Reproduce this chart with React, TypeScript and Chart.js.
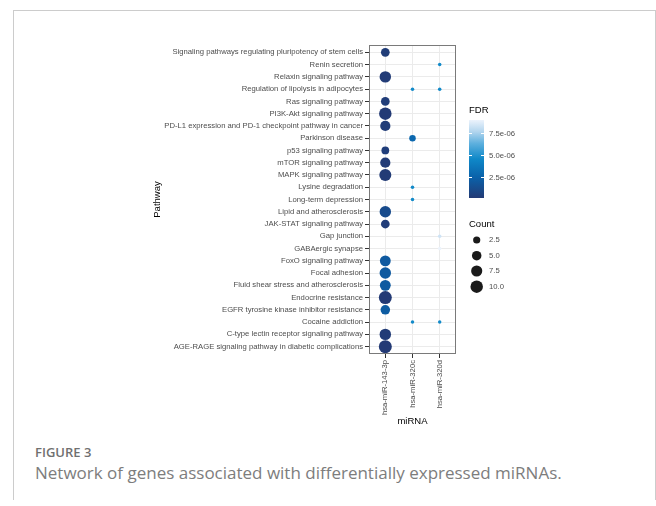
import React, { useEffect, useRef } from 'react';
import { Chart, registerables } from 'chart.js';

Chart.register(...registerables);

// ---------------- data ----------------
const pathways = [
  'Signaling pathways regulating pluripotency of stem cells',
  'Renin secretion',
  'Relaxin signaling pathway',
  'Regulation of lipolysis in adipocytes',
  'Ras signaling pathway',
  'PI3K-Akt signaling pathway',
  'PD-L1 expression and PD-1 checkpoint pathway in cancer',
  'Parkinson disease',
  'p53 signaling pathway',
  'mTOR signaling pathway',
  'MAPK signaling pathway',
  'Lysine degradation',
  'Long-term depression',
  'Lipid and atherosclerosis',
  'JAK-STAT signaling pathway',
  'Gap junction',
  'GABAergic synapse',
  'FoxO signaling pathway',
  'Focal adhesion',
  'Fluid shear stress and atherosclerosis',
  'Endocrine resistance',
  'EGFR tyrosine kinase inhibitor resistance',
  'Cocaine addiction',
  'C-type lectin receptor signaling pathway',
  'AGE-RAGE signaling pathway in diabetic complications',
];

const mirnas = ['hsa-miR-143-3p', 'hsa-miR-320c', 'hsa-miR-320d'];

const mir143Pathways = [
  'Signaling pathways regulating pluripotency of stem cells',
  'Relaxin signaling pathway',
  'Ras signaling pathway',
  'PI3K-Akt signaling pathway',
  'PD-L1 expression and PD-1 checkpoint pathway in cancer',
  'p53 signaling pathway',
  'mTOR signaling pathway',
  'MAPK signaling pathway',
  'Lipid and atherosclerosis',
  'JAK-STAT signaling pathway',
  'FoxO signaling pathway',
  'Focal adhesion',
  'Fluid shear stress and atherosclerosis',
  'Endocrine resistance',
  'EGFR tyrosine kinase inhibitor resistance',
  'C-type lectin receptor signaling pathway',
  'AGE-RAGE signaling pathway in diabetic complications',
];
const mir143Counts = [4, 8, 4, 10, 6, 3, 6, 9, 8, 4, 7, 8, 7, 11, 5, 8, 11];
const mir143Fdr = [
  2.0e-7, 1.5e-7, 2.5e-7, 5.0e-8, 2.0e-7, 3.0e-7, 1.5e-7, 1.0e-7, 1.1e-6, 2.5e-7,
  2.0e-6, 2.0e-6, 2.0e-6, 4.5e-8, 2.1e-6, 1.5e-7, 5.0e-8,
];

const mir320cPathways = [
  'Regulation of lipolysis in adipocytes',
  'Parkinson disease',
  'Lysine degradation',
  'Long-term depression',
  'Cocaine addiction',
];
const mir320cCounts = [1, 2, 1, 1, 1];
const mir320cFdr = [4.6e-6, 2.8e-6, 4.6e-6, 4.6e-6, 4.6e-6];

const mir320dPathways = [
  'Renin secretion',
  'Regulation of lipolysis in adipocytes',
  'Gap junction',
  'GABAergic synapse',
  'Cocaine addiction',
];
const mir320dCounts = [1, 1, 1, 1, 1];
const mir320dFdr = [4.6e-6, 4.6e-6, 8.3e-6, 9.0e-6, 4.6e-6];

const fdrTicks = [2.5e-6, 5.0e-6, 7.5e-6];
const fdrTickLabels = ['2.5e-06', '5.0e-06', '7.5e-06'];
const countBreaks = [2.5, 5.0, 7.5, 10.0];
const countLabels = ['2.5', '5.0', '7.5', '10.0'];

// ---------------- scales ----------------
const allFdr = [...mir143Fdr, ...mir320cFdr, ...mir320dFdr];
const fdrMin = Math.min(...allFdr);
const fdrMax = Math.max(...allFdr);
const allCounts = [...mir143Counts, ...mir320cCounts, ...mir320dCounts];
const cMin = Math.min(...allCounts);
const cMax = Math.max(...allCounts);

const colorStops: [number, string][] = [
  [0, '#233a75'],
  [0.27, '#0a62aa'],
  [0.5, '#0f88c8'],
  [0.7, '#5eb0de'],
  [0.85, '#b2d5ee'],
  [1, '#ecf3fc'],
];

function hexToRgb(h: string) {
  const n = parseInt(h.slice(1), 16);
  return [(n >> 16) & 255, (n >> 8) & 255, n & 255];
}

function fdrColor(v: number) {
  const t = Math.max(0, Math.min(1, (v - fdrMin) / (fdrMax - fdrMin)));
  for (let i = 0; i < colorStops.length - 1; i++) {
    const [t0, c0] = colorStops[i];
    const [t1, c1] = colorStops[i + 1];
    if (t <= t1) {
      const f = (t - t0) / (t1 - t0);
      const a = hexToRgb(c0);
      const b = hexToRgb(c1);
      const r = a.map((x, k) => Math.round(x + (b[k] - x) * f));
      return `rgb(${r[0]},${r[1]},${r[2]})`;
    }
  }
  return colorStops[colorStops.length - 1][1];
}

function countRadius(c: number) {
  const s = 1 + 5 * Math.sqrt(Math.max(0, (c - cMin) / (cMax - cMin)));
  return (1.9 * s + 1.6) / 2;
}

const FONT = '"Liberation Sans", Arial, Helvetica, sans-serif';

const series = [
  { paths: mir143Pathways, counts: mir143Counts, fdr: mir143Fdr },
  { paths: mir320cPathways, counts: mir320cCounts, fdr: mir320cFdr },
  { paths: mir320dPathways, counts: mir320dCounts, fdr: mir320dFdr },
];

// ---------------- plugins ----------------
const panelBorder = {
  id: 'panelBorder',
  afterDraw(chart: any) {
    const { ctx, chartArea: a } = chart;
    ctx.save();
    ctx.strokeStyle = '#7a7a7a';
    ctx.lineWidth = 1;
    ctx.strokeRect(Math.round(a.left) + 0.5, Math.round(a.top) + 0.5, Math.round(a.right - a.left) - 1, Math.round(a.bottom - a.top) - 1);
    ctx.restore();
  },
};

const ggLegend = {
  id: 'ggLegend',
  afterDraw(chart: any) {
    const ctx = chart.ctx;
    ctx.save();
    ctx.textAlign = 'left';
    ctx.textBaseline = 'alphabetic';
    ctx.fillStyle = '#000000';
    ctx.font = `9.5px ${FONT}`;
    ctx.fillText('FDR', 469, 113);

    const bx = 469, by = 120, bw = 15, bh = 78;
    const g = ctx.createLinearGradient(0, by + bh, 0, by);
    colorStops.forEach(([t, c]) => g.addColorStop(t, c));
    ctx.fillStyle = g;
    ctx.fillRect(bx, by, bw, bh);

    ctx.font = `7.7px ${FONT}`;
    ctx.textBaseline = 'middle';
    fdrTicks.forEach((v, i) => {
      const y = Math.round(by + bh - ((v - fdrMin) / (fdrMax - fdrMin)) * bh) + 0.5;
      ctx.strokeStyle = '#ffffff';
      ctx.lineWidth = 1;
      ctx.beginPath();
      ctx.moveTo(bx, y);
      ctx.lineTo(bx + 3, y);
      ctx.moveTo(bx + bw - 3, y);
      ctx.lineTo(bx + bw, y);
      ctx.stroke();
      ctx.fillStyle = '#4d4d4d';
      ctx.fillText(fdrTickLabels[i], 489, y);
    });

    ctx.textBaseline = 'alphabetic';
    ctx.fillStyle = '#000000';
    ctx.font = `9.5px ${FONT}`;
    ctx.fillText('Count', 469, 226.5);

    const ys = [240, 255.7, 271, 286.7];
    ctx.font = `7.7px ${FONT}`;
    ctx.textBaseline = 'middle';
    countBreaks.forEach((c, i) => {
      ctx.fillStyle = '#1a1a1a';
      ctx.beginPath();
      ctx.arc(476.7, ys[i], countRadius(c), 0, Math.PI * 2);
      ctx.fill();
      ctx.fillStyle = '#4d4d4d';
      ctx.fillText(countLabels[i], 489, ys[i]);
    });
    ctx.restore();
  },
};

// ---------------- component ----------------
export default function App() {
  const ref = useRef<HTMLCanvasElement | null>(null);

  useEffect(() => {
    if (!ref.current) return;
    const datasets = series.map((s, i) => ({
      label: mirnas[i],
      data: s.paths.map((p, j) => ({
        x: i + 1,
        y: pathways.indexOf(p) + 1,
        r: countRadius(s.counts[j]),
      })),
      backgroundColor: s.fdr.map(fdrColor),
      borderWidth: 0,
      hoverRadius: 0,
    }));

    const chart = new Chart(ref.current, {
      type: 'bubble',
      data: { datasets },
      plugins: [panelBorder, ggLegend],
      options: {
        responsive: false,
        animation: false,
        devicePixelRatio: 1,
        events: [],
        layout: { padding: { left: 0, right: 200, top: 45, bottom: 0 } },
        plugins: { legend: { display: false }, tooltip: { enabled: false } },
        scales: {
          x: {
            type: 'linear',
            position: 'bottom',
            min: 0.4,
            max: 3.6,
            afterBuildTicks: (scale: any) => {
              scale.ticks = mirnas.map((_, i) => ({ value: i + 1 }));
            },
            afterFit: (scale: any) => {
              scale.height = 86;
            },
            grid: {
              color: '#ebebeb',
              lineWidth: 1,
              tickColor: '#333333',
              tickLength: 4,
              tickWidth: 1,
            },
            border: { display: false },
            ticks: {
              autoSkip: false,
              minRotation: 90,
              maxRotation: 90,
              padding: 2,
              color: '#4d4d4d',
              font: { family: FONT, size: 7.7 },
              callback: (v: any) => mirnas[Math.round(Number(v)) - 1] ?? '',
            },
            title: {
              display: true,
              text: 'miRNA',
              color: '#000000',
              font: { family: FONT, size: 9.5 },
              padding: { top: 0, bottom: 12.6 },
            },
          },
          y: {
            type: 'linear',
            position: 'left',
            reverse: true,
            min: 0.4,
            max: 25.6,
            afterBuildTicks: (scale: any) => {
              scale.ticks = pathways.map((_, i) => ({ value: i + 1 }));
            },
            afterFit: (scale: any) => {
              scale.width = 369;
            },
            grid: {
              color: '#ebebeb',
              lineWidth: 1,
              tickColor: '#333333',
              tickLength: 4,
              tickWidth: 1,
            },
            border: { display: false },
            ticks: {
              autoSkip: false,
              padding: 2,
              color: '#4d4d4d',
              font: { family: FONT, size: 7.7 },
              callback: (v: any) => pathways[Math.round(Number(v)) - 1] ?? '',
            },
            title: {
              display: true,
              text: 'Pathway',
              color: '#000000',
              font: { family: FONT, size: 9.5 },
              padding: { top: 151.3, bottom: 0 },
            },
          },
        },
      } as any,
    });
    return () => chart.destroy();
  }, []);

  return (
    <div>
      <div
        style={{
          position: 'absolute',
          left: 13,
          top: 10,
          width: 643,
          height: 490,
          boxSizing: 'border-box',
          borderTop: '1px solid #cccccc',
          borderLeft: '1px solid #cccccc',
          borderRight: '1px solid #cccccc',
        }}
      />
      <canvas
        ref={ref}
        width={656}
        height={440}
        style={{ position: 'absolute', left: 0, top: 0, width: 656, height: 440 }}
      />
      <div
        style={{
          position: 'absolute',
          left: 35,
          top: 444,
          fontFamily: '"Open Sans", sans-serif',
          fontWeight: 600,
          fontSize: 13,
          lineHeight: '16px',
          color: '#707070',
          whiteSpace: 'nowrap',
        }}
      >
        FIGURE 3
      </div>
      <div
        style={{
          position: 'absolute',
          left: 35,
          top: 462,
          fontFamily: '"Open Sans", sans-serif',
          fontWeight: 400,
          fontSize: 17,
          lineHeight: '22px',
          color: '#7d7d7d',
          whiteSpace: 'nowrap',
        }}
      >
        Network of genes associated with differentially expressed miRNAs.
      </div>
    </div>
  );
}
